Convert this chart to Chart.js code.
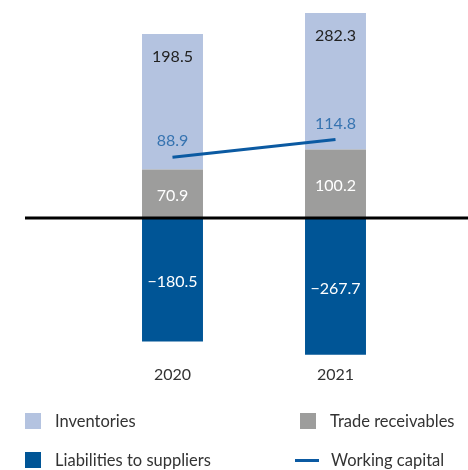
<!DOCTYPE html>
<html>
<head>
<meta charset="utf-8">
<script src="https://cdn.jsdelivr.net/npm/chart.js@4.4.0/dist/chart.umd.min.js"></script>
<style>
    body { margin: 0; background: #fff; font-family: Lato, sans-serif; }
    #wrap { position: relative; width: 468px; height: 470px; }
    .legend-item { position: absolute; display: flex; align-items: center; font-size: 16.5px; color: #333; }
    .legend-box { width: 16px; height: 16px; margin-right: 14px; }
    .legend-line { width: 24px; height: 3px; margin-right: 12px; }
</style>
</head>
<body>
<div id="wrap">
    <canvas id="wcChart" width="468" height="470"></canvas>
    <div class="legend-item" style="left:25px; top:411px;"><span class="legend-box" style="background:#b4c3e0"></span>Inventories</div>
    <div class="legend-item" style="left:300px; top:411px;"><span class="legend-box" style="background:#9d9d9c"></span>Trade receivables</div>
    <div class="legend-item" style="left:25px; top:450px;"><span class="legend-box" style="background:#005596"></span>Liabilities to suppliers</div>
    <div class="legend-item" style="left:295px; top:450px;"><span class="legend-line" style="background:#0b5aa2"></span>Working capital</div>
</div>
<script>
const years = ["2020", "2021"];
const inventories = [198.5, 282.3];
const tradeReceivables = [70.9, 100.2];
const liabilities = [-180.5, -267.7];
const workingCapital = [88.9, 114.8];

const fmt = (v) => (v < 0 ? "\u2212" + Math.abs(v).toFixed(1) : v.toFixed(1));

// value labels and the zero line
const labelPlugin = {
    id: "valueLabels",
    afterDatasetsDraw(chart) {
        const ctx = chart.ctx;
        const area = chart.chartArea;
        const y0 = chart.scales.y.getPixelForValue(0);

        ctx.save();
        ctx.strokeStyle = "#000";
        ctx.lineWidth = 3;
        ctx.beginPath();
        ctx.moveTo(25, y0);
        ctx.lineTo(chart.width, y0);
        ctx.stroke();

        ctx.font = "16px Lato";
        ctx.textAlign = "center";
        ctx.textBaseline = "middle";

        chart.data.datasets.forEach((ds, i) => {
            const meta = chart.getDatasetMeta(i);
            meta.data.forEach((el, j) => {
                const v = ds.data[j];
                if (ds.type === "line") {
                    ctx.fillStyle = "#3673b0";
                    ctx.fillText(fmt(v), el.x, el.y - 16);
                    return;
                }
                const top = Math.max(Math.min(el.y, el.base), area.top);
                const bottom = Math.min(Math.max(el.y, el.base), area.bottom);
                if (ds.label === "Inventories") {
                    ctx.fillStyle = "#222";
                    ctx.fillText(fmt(v), el.x, top + 23);
                } else {
                    ctx.fillStyle = "#fff";
                    ctx.fillText(fmt(v), el.x, (top + bottom) / 2 + 2);
                }
            });
        });
        ctx.restore();
    },
};

new Chart(document.getElementById("wcChart"), {
    data: {
        labels: years,
        datasets: [
            {
                type: "line",
                label: "Working capital",
                data: workingCapital,
                borderColor: "#0b5aa2",
                borderWidth: 3,
                pointRadius: 0,
                stack: "wc",
                order: 0,
            },
            {
                type: "bar",
                label: "Trade receivables",
                data: tradeReceivables,
                backgroundColor: "#9d9d9c",
                stack: "bars",
                order: 1,
            },
            {
                type: "bar",
                label: "Inventories",
                data: inventories,
                backgroundColor: "#b4c3e0",
                stack: "bars",
                order: 1,
            },
            {
                type: "bar",
                label: "Liabilities to suppliers",
                data: liabilities,
                backgroundColor: "#005596",
                stack: "bars",
                order: 1,
            },
        ],
    },
    options: {
        responsive: false,
        animation: false,
        layout: { padding: { top: 13, left: 91, right: 51, bottom: 84 } },
        datasets: { bar: { categoryPercentage: 1, barPercentage: 0.374 } },
        plugins: { legend: { display: false }, tooltip: { enabled: false } },
        scales: {
            x: {
                stacked: true,
                grid: { display: false },
                border: { display: false },
                ticks: { color: "#333", font: { family: "Lato", size: 16 }, padding: 2 },
            },
            y: {
                stacked: true,
                display: false,
                min: -200,
                max: 300,
            },
        },
    },
    plugins: [labelPlugin],
});
</script>
</body>
</html>
